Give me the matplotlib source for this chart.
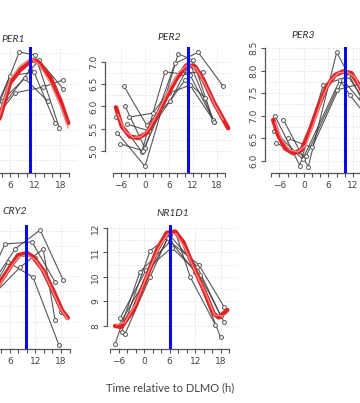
import matplotlib
matplotlib.use("Agg")
import matplotlib.pyplot as plt
import numpy as np

W, H = 360, 403
DPI = 100

# ---------------- data ----------------
xlabel_text = "Time relative to DLMO (h)"
panel_names = ["PER1", "PER2", "PER3", "CRY2", "NR1D1"]

# DLMO-relative peak marker (blue line) for each panel
blue_hours = [10.8, 10.7, 10.1, 9.7, 6.0]

# PER1 (y axis not visible in crop)
per1_red_t = [-7, -4, -1, 1, 3.6, 6.0, 8.4, 11.3, 12.7, 15.6, 18.0, 19.9]
per1_red_v = [5.6, 5.35, 5.45, 5.8, 6.24, 7.0, 7.29, 7.51, 7.47, 7.13, 6.62, 6.11]
per1_pink_t = [-7, -4, -1, 1, 3.6, 6.0, 8.4, 11.0, 13.0, 15.6, 18.0, 19.9]
per1_pink_v = [5.55, 5.3, 5.4, 5.75, 6.3, 7.08, 7.38, 7.55, 7.4, 7.0, 6.5, 6.0]
per1_subj_t = [[-3, 2, 8.2, 12.0, 17.8], [-5, 0.5, 6.0, 11.75, 16.8],
               [-4, 1.5, 7.2, 13.9, 18.7], [-2, 3.5, 10.8, 13.0, 18.7],
               [-6, 4.0, 9.5, 15.0]]
per1_subj_v = [[5.8, 6.2, 7.69, 7.62, 6.0], [5.5, 6.0, 7.16, 7.24, 6.11],
               [5.6, 6.1, 6.78, 6.91, 7.07], [5.7, 6.4, 7.29, 7.5, 6.87],
               [5.4, 6.6, 7.1, 6.6]]

# PER2
per2_red_t = [-7.25, -5.8, -3.75, -1.7, 0.4, 2.9, 5.4, 7.9, 10.4, 12.5, 14.6, 17.1, 19.2, 20.8]
per2_red_v = [5.98, 5.55, 5.32, 5.29, 5.40, 5.77, 6.22, 6.63, 6.93, 6.90, 6.60, 6.11, 5.77, 5.51]
per2_pink_t = [-6.8, -5.0, -3.0, -1.0, 1.0, 3.5, 6.0, 8.5, 10.8, 12.8, 15.0, 17.5, 19.5]
per2_pink_v = [5.82, 5.45, 5.30, 5.32, 5.50, 5.92, 6.40, 6.78, 6.95, 6.85, 6.50, 6.02, 5.70]
per2_subj_t = [[-5.2, 0.4, 6.25, 11.25, 17.0], [-7.25, -0.8, 5.0, 11.25, 17.3],
               [-5.0, 0.0, 7.5, 13.3, 19.6], [-6.9, 0.0, 8.3, 12.0, 17.0],
               [-3.9, 2.0, 9.2, 14.6], [-6.25, -0.5, 6.0, 11.25, 17.3],
               [-4.5, 1.0, 10.0, 15.0]]
per2_subj_v = [[6.45, 5.58, 6.12, 6.97, 5.70], [5.77, 4.98, 6.78, 6.71, 5.66],
               [6.01, 5.06, 6.97, 7.22, 6.45], [5.40, 4.65, 7.19, 7.04, 5.70],
               [5.76, 5.85, 6.75, 6.78], [5.16, 5.00, 6.30, 6.48, 5.66],
               [5.60, 5.45, 6.60, 6.20]]

# PER3
per3_red_t = [-7.5, -6.3, -4.6, -2.6, -0.6, 1.5, 3.5, 5.5, 7.6, 9.6, 11.6, 13.7, 16.0, 19.0, 21.0]
per3_red_v = [6.91, 6.58, 6.28, 6.17, 6.24, 6.69, 7.20, 7.64, 7.90, 7.98, 7.94, 7.64, 7.10, 6.60, 6.40]
per3_pink_t = [-7.0, -5.5, -3.5, -1.5, 0.5, 2.5, 4.5, 6.5, 8.5, 10.5, 12.5, 14.5, 17.0, 20.0]
per3_pink_v = [6.85, 6.50, 6.25, 6.20, 6.35, 6.85, 7.40, 7.78, 7.95, 7.97, 7.85, 7.50, 7.00, 6.55]
per3_subj_t = [[-7.1, -1.0, 4.7, 10.8, 16.5], [-5.0, 1.05, 8.0, 14.0],
               [-7.2, -0.3, 8.8, 11.2, 17.0], [-6.7, 0.5, 8.0, 13.5],
               [-4.0, 2.0, 9.5, 15.0]]
per3_subj_v = [[7.00, 5.90, 7.68, 7.87, 7.10], [6.91, 5.87, 8.40, 7.40],
               [6.66, 6.04, 7.79, 7.46, 6.80], [6.39, 6.10, 7.57, 7.70],
               [6.50, 6.30, 7.80, 7.20]]

# CRY2 (y axis not visible in crop)
cry2_red_t = [-7, -4, -1, 1.5, 3.6, 6.0, 7.9, 10.0, 11.4, 13.8, 16.1, 18.2, 19.6]
cry2_red_v = [6.6, 6.5, 6.7, 7.1, 7.60, 7.98, 8.27, 8.32, 8.23, 7.91, 7.43, 6.94, 6.75]
cry2_pink_t = [-7, -4, -1, 1.5, 3.6, 6.0, 8.0, 10.0, 12.0, 14.0, 16.0, 18.0, 19.6]
cry2_pink_v = [6.55, 6.45, 6.65, 7.05, 7.55, 7.95, 8.22, 8.28, 8.15, 7.85, 7.40, 6.95, 6.72]
cry2_subj_t = [[-2, 4.8, 11.2, 16.6], [0, 7.2, 13.1, 18.5], [1, 8.4, 13.8, 16.6],
               [-1, 5.5, 11.4, 17.5], [2, 9.0, 12.0, 18.0]]
cry2_subj_v = [[7.0, 8.54, 8.59, 7.62], [7.3, 8.42, 8.88, 7.67], [7.2, 7.98, 8.42, 6.70],
               [6.9, 8.10, 7.74, 6.10], [7.5, 8.30, 8.20, 6.90]]

# NR1D1
nr1d1_red_t = [-6.8, -5.3, -2.5, 0.6, 3.0, 5.3, 7.3, 9.25, 11.6, 14.0, 16.3, 17.5, 19.5]
nr1d1_red_v = [8.00, 7.97, 8.65, 10.0, 11.1, 11.8, 11.85, 11.4, 10.4, 9.47, 8.50, 8.35, 8.65]
nr1d1_pink_t = [-6.5, -4.5, -2.0, 1.0, 3.5, 5.5, 7.5, 9.5, 12.0, 14.5, 16.5, 18.5]
nr1d1_pink_v = [8.05, 8.15, 8.90, 10.2, 11.2, 11.75, 11.75, 11.2, 10.2, 9.30, 8.45, 8.40]
nr1d1_subj_t = [[-6.8, -1.0, 6.1, 12.8, 18.7], [-5.3, 1.4, 7.3, 10.8, 16.7],
                [-4.5, 1.4, 5.5, 12.0, 17.9], [-5.6, 0.5, 6.5, 13.0, 18.7],
                [-6.0, 0.0, 6.0, 12.5, 18.0]]
nr1d1_subj_v = [[7.27, 10.2, 11.44, 10.5, 8.79], [7.74, 11.07, 11.85, 10.0, 8.04],
                [7.67, 10.0, 11.6, 10.2, 7.54], [8.33, 10.3, 11.2, 10.1, 8.17],
                [8.0, 9.8, 11.7, 10.4, 8.4]]

x_ticks = list(range(-8, 21, 2))
x_labels = [-6, 0, 6, 12, 18]

# ---------------- layout (pixel boxes) ----------------
panels = [
    dict(name="PER1", box=(-57, 77, 47, 173), xlim=(-10, 22), ylim=(5.0, 7.8), yticks=None,
         red=(per1_red_t, per1_red_v), pink=(per1_pink_t, per1_pink_v),
         subj=(per1_subj_t, per1_subj_v), blue=blue_hours[0], ty=40, tx=1, tha="left"),
    dict(name="PER2", box=(105, 233, 47, 173), xlim=(-10, 22), ylim=(4.5, 7.34),
         yticks=[5.0, 5.5, 6.0, 6.5, 7.0],
         red=(per2_red_t, per2_red_v), pink=(per2_pink_t, per2_pink_v),
         subj=(per2_subj_t, per2_subj_v), blue=blue_hours[1], ty=37, tx=None, tha="center"),
    dict(name="PER3", box=(265, 394, 47, 173), xlim=(-9.5, 22), ylim=(5.735, 8.52),
         yticks=[6.0, 6.5, 7.0, 7.5, 8.0, 8.5],
         red=(per3_red_t, per3_red_v), pink=(per3_pink_t, per3_pink_v),
         subj=(per3_subj_t, per3_subj_v), blue=blue_hours[2], ty=36, tx=303, tha="center"),
    dict(name="CRY2", box=(-58, 78, 225, 349), xlim=(-10, 22), ylim=(6.0, 9.0), yticks=None,
         red=(cry2_red_t, cry2_red_v), pink=(cry2_pink_t, cry2_pink_v),
         subj=(cry2_subj_t, cry2_subj_v), blue=blue_hours[3], ty=212, tx=2, tha="left"),
    dict(name="NR1D1", box=(107, 238, 225, 349), xlim=(-8.7, 22), ylim=(7.06, 12.12),
         yticks=[8, 9, 10, 11, 12],
         red=(nr1d1_red_t, nr1d1_red_v), pink=(nr1d1_pink_t, nr1d1_pink_v),
         subj=(nr1d1_subj_t, nr1d1_subj_v), blue=blue_hours[4], ty=213, tx=None, tha="center"),
]

fig = plt.figure(figsize=(W / DPI, H / DPI), dpi=DPI)
fig.patch.set_facecolor("white")

axis_col = "#555555"
text_col = "#444444"

for p in panels:
    l, r, t, b = p["box"]
    ax = fig.add_axes([l / W, 1 - b / H, (r - l) / W, (b - t) / H])
    ax.set_xlim(*p["xlim"])
    ax.set_ylim(*p["ylim"])
    ax.patch.set_alpha(0)
    for s in ("top", "right"):
        ax.spines[s].set_visible(False)
    # grid
    for gx in [-6, 0, 6, 12, 18]:
        ax.axvline(gx, color="#e0e0e0", lw=0.6, ls=(0, (2, 2)), zorder=0)
    y0, y1 = p["ylim"]
    if p["yticks"] is not None:
        step = (p["yticks"][1] - p["yticks"][0]) / 2
        gy = np.arange(p["yticks"][0], p["yticks"][-1] + step / 2, step)
    else:
        gy = np.linspace(y0 + (y1 - y0) * 0.1, y1 - (y1 - y0) * 0.05, 8)
    for g in gy:
        ax.axhline(g, color="#e0e0e0", lw=0.6, ls=(0, (2, 2)), zorder=0)

    # subjects
    st, sv = p["subj"]
    for tt, vv in zip(st, sv):
        ax.plot(tt, vv, color="#3a3a3a", lw=0.8, zorder=2, alpha=0.85)
        ax.plot(tt, vv, ls="none", marker="o", ms=2.8, mfc="white", mec="#555555",
                mew=0.7, zorder=3)
    # red fits
    ax.plot(*p["red"], color="#e02424", lw=3.2, zorder=4, solid_capstyle="round")
    ax.plot(*p["pink"], color="#f08c8c", lw=1.0, zorder=5)
    # blue DLMO/peak line
    ax.axvline(p["blue"], color="#0a0ae6", lw=2.2, zorder=6)

    # axes styling
    ax.spines["bottom"].set_bounds(-8, 20)
    ax.spines["bottom"].set_color(axis_col)
    ax.spines["bottom"].set_linewidth(0.9)
    ax.set_xticks(x_ticks)
    hx0, hx1 = p["xlim"]

    def px_of(h):
        return l + (h - hx0) / (hx1 - hx0) * (r - l)

    labs = []
    for v in x_ticks:
        if v in x_labels and 5 <= px_of(v) <= W - 6:
            labs.append(str(v).replace("-", "\u2212"))
        else:
            labs.append("")
    ax.set_xticklabels(labs)
    ax.tick_params(axis="x", direction="out", length=3, width=0.8, color=axis_col,
                   labelsize=6.5, labelcolor=text_col, pad=3)
    if p["yticks"] is not None:
        ax.spines["left"].set_bounds(p["yticks"][0], p["yticks"][-1])
        ax.spines["left"].set_color(axis_col)
        ax.spines["left"].set_linewidth(0.9)
        ax.set_yticks(p["yticks"])
        fmt = "%.1f" if isinstance(p["yticks"][0], float) else "%d"
        ax.set_yticklabels([fmt % v for v in p["yticks"]], rotation=90, va="center")
        ax.tick_params(axis="y", direction="out", length=3, width=0.8, color=axis_col,
                       labelsize=6.5, labelcolor=text_col, pad=2)
    else:
        ax.spines["left"].set_visible(False)
        ax.set_yticks([])

    cx = p["tx"] if p["tx"] is not None else (l + r) / 2
    fig.text(cx / W, 1 - p["ty"] / H, p["name"], ha=p["tha"], va="center",
             fontsize=7.5, style="italic", color="#333333", family="Lato")

fig.text(170 / W, 1 - 388 / H, xlabel_text, ha="center", va="center",
         fontsize=8, color=text_col, family="Lato")

fig.savefig("out.png", dpi=DPI, facecolor="white")
